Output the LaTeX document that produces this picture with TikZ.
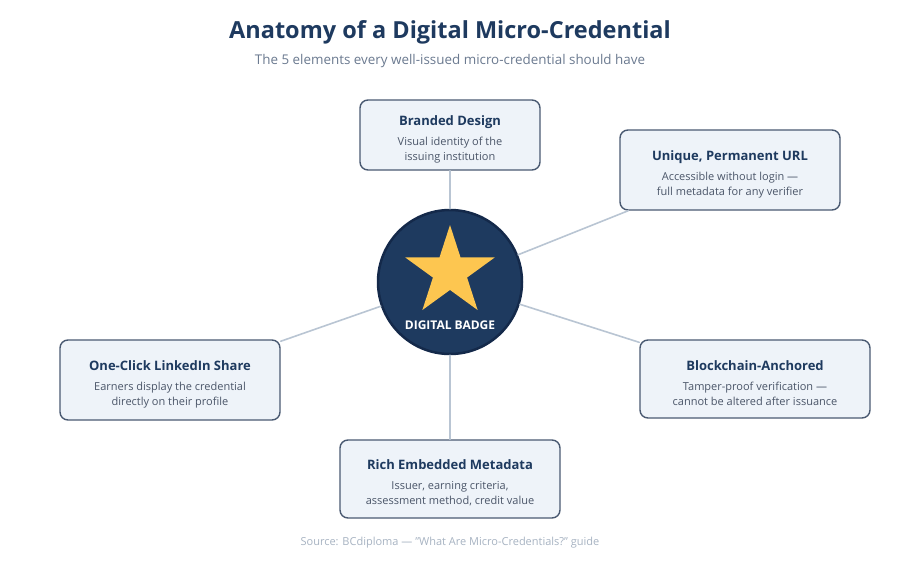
\documentclass[tikz,border=0pt]{standalone}
\usepackage{fontspec}
\setmainfont{Open Sans}
\usetikzlibrary{shapes.geometric}
\definecolor{navy}{HTML}{1E3A5F}
\definecolor{navyline}{HTML}{14294A}
\definecolor{subgray}{HTML}{6B7A90}
\definecolor{descgray}{HTML}{4A5568}
\definecolor{srcgray}{HTML}{A7B3C2}
\definecolor{cardfill}{HTML}{EEF3F9}
\definecolor{cardline}{HTML}{4A5A72}
\definecolor{linkline}{HTML}{B9C5D3}
\definecolor{stargold}{HTML}{FDC650}
\newcommand{\cardtitle}[1]{{\rule{0pt}{18pt}\fontsize{13}{15}\selectfont\bfseries\color{navy}#1}}
\begin{document}
\begin{tikzpicture}[x=1pt, y=-1pt, line join=round, line cap=round,
	card/.style={draw=cardline, fill=cardfill, line width=1.4pt, rounded corners=8pt, align=center, inner sep=0pt, text=descgray, font=\fontsize{11}{15}\selectfont},
	spoke/.style={draw=linkline, line width=1.6pt}]
	\useasboundingbox[fill=white] (0,0) rectangle (900,560);
	\node (title) at (450,32) [text=navy, font=\fontsize{23.5}{28}\selectfont\bfseries] {Anatomy of a Digital Micro-Credential};
	\node (subtitle) at (450,61) [text=subgray, font=\fontsize{13.4}{16}\selectfont] {The 5 elements every well-issued micro-credential should have};
	\node (badge) at (450,282) [circle, minimum size=144pt, fill=navy, draw=navyline, line width=2.5pt] {};
	\node (star) at (450,272) [star, star points=5, star point ratio=2.618, minimum size=94pt, inner sep=0pt, fill=stargold] {};
	\node (badgelabel) at (450,325) [text=white, font=\fontsize{12}{14}\selectfont\bfseries] {DIGITAL BADGE};
	\node (brand) at (450,135) [card, minimum width=180pt, minimum height=70pt] {\cardtitle{Branded Design}\\[5pt]Visual identity of the\\issuing institution};
	\node (url) at (730,170) [card, minimum width=220pt, minimum height=80pt] {\cardtitle{Unique, Permanent URL}\\[5pt]Accessible without login ---\\full metadata for any verifier};
	\node (share) at (170,380) [card, minimum width=220pt, minimum height=80pt] {\cardtitle{One-Click LinkedIn Share}\\[5pt]Earners display the credential\\directly on their profile};
	\node (chain) at (755,379) [card, minimum width=230pt, minimum height=78pt] {\cardtitle{Blockchain-Anchored}\\[5pt]Tamper-proof verification ---\\cannot be altered after issuance};
	\node (meta) at (450,479) [card, minimum width=220pt, minimum height=78pt] {\cardtitle{Rich Embedded Metadata}\\[5pt]Issuer, earning criteria,\\assessment method, credit value};
	\draw[spoke] (badge) -- (brand);
	\draw[spoke] (badge) -- (url);
	\draw[spoke] (badge) -- (share);
	\draw[spoke] (badge) -- (chain);
	\draw[spoke] (badge) -- (meta);
	\node (source) at (450,543) [text=srcgray, font=\fontsize{11}{13}\selectfont] {Source: BCdiploma --- \symbol{34}What Are Micro-Credentials?\symbol{34} guide};
\end{tikzpicture}
\end{document}
